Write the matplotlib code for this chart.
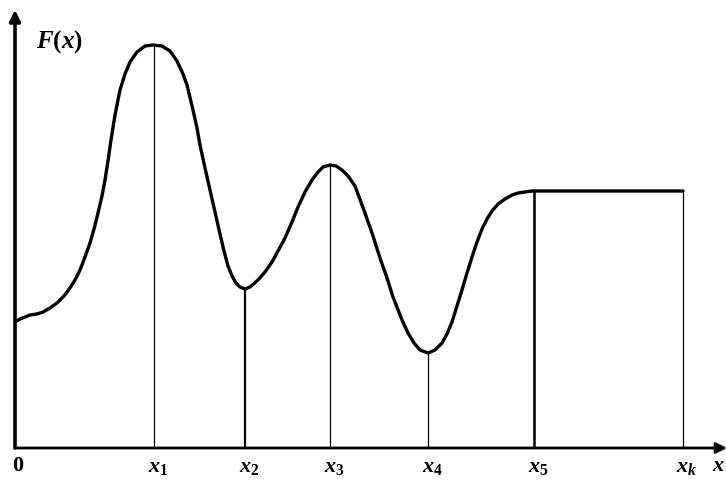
import matplotlib
matplotlib.use("Agg")
import matplotlib.pyplot as plt

plt.rcParams['mathtext.fontset'] = 'custom'
plt.rcParams['mathtext.rm'] = 'Liberation Serif:bold'
plt.rcParams['mathtext.it'] = 'Liberation Serif:bold:italic'
plt.rcParams['mathtext.bf'] = 'Liberation Serif:bold'

# Curve F(x) (x from origin, y above the x axis)
curve_x = [0, 5, 10, 15, 22, 28, 35, 42, 49, 55, 60, 65, 70, 75, 79, 83, 87, 90, 93,
           96, 100, 105, 110, 115, 122, 130, 138, 147, 155, 162, 168, 172, 178, 182,
           185, 190, 195, 200, 205, 209, 213, 217, 221, 225, 230, 235, 243, 250, 257,
           263, 270, 277, 283, 290, 297, 303, 308, 315, 321, 327, 333, 340, 350, 358,
           365, 372, 378, 387, 393, 399, 405, 413, 420, 427, 432, 437, 442, 447, 452,
           457, 462, 467, 472, 477, 483, 490, 497, 503, 510, 517, 668]
curve_y = [126, 129, 131, 133, 134, 136, 140, 145, 152, 160, 168, 178, 191, 205, 219,
           235, 252, 268, 287, 308, 333, 358, 374, 386, 396, 402, 403, 402, 397, 387,
           374, 363, 338, 320, 303, 280, 258, 236, 214, 197, 182, 172, 165, 161, 159,
           161, 168, 176, 186, 197, 210, 226, 241, 256, 268, 276, 281, 283, 282, 278,
           272, 262, 235, 212, 190, 170, 151, 128, 115, 105, 98, 95, 98, 105, 114, 126,
           142, 158, 175, 191, 206, 219, 229, 237, 244, 249, 253, 255, 256, 257, 257]

# Marked points on the x axis and their labels
mark_x = [139, 230, 315, 413, 519, 668]
mark_lw = [0.9, 1.6, 0.9, 0.9, 1.8, 0.9]
mark_labels = [r'$x_1$', r'$x_2$', r'$x_3$', r'$x_4$', r'$x_5$', r'$x_k$']

W, H = 726, 490
fig = plt.figure(figsize=(W / 100, H / 100), dpi=100)
x0, y0 = 15, 448
ax = fig.add_axes([x0 / W, (H - y0) / H, (W - x0) / W, y0 / H])
ax.set_xlim(0, W - x0)
ax.set_ylim(0, y0)
ax.axis('off')


def val_at(x):
    for i in range(len(curve_x) - 1):
        if curve_x[i] <= x <= curve_x[i + 1]:
            t = (x - curve_x[i]) / (curve_x[i + 1] - curve_x[i])
            return curve_y[i] + t * (curve_y[i + 1] - curve_y[i])
    return curve_y[-1]


for mx, lw in zip(mark_x, mark_lw):
    ax.vlines(mx, 0, val_at(mx), color='black', lw=lw, zorder=2)

ax.plot(curve_x, curve_y, color='black', lw=2.4, solid_joinstyle='round',
        solid_capstyle='round', zorder=3)

# axes with arrows
ax.annotate('', xy=(W - x0 + 1, 0), xytext=(0, 0), xycoords='data',
            arrowprops=dict(arrowstyle='-|>', lw=2.0, color='black',
                            mutation_scale=16, shrinkA=0, shrinkB=0),
            annotation_clip=False, zorder=4)
ax.annotate('', xy=(0, y0 - 10), xytext=(0, 0), xycoords='data',
            arrowprops=dict(arrowstyle='-|>', lw=2.6, color='black',
                            mutation_scale=16, shrinkA=0, shrinkB=0),
            annotation_clip=False, zorder=4)

ax.text(21, y0 - 42, r'$F(x)$', fontsize=18, ha='left', va='center')
ax.text(3, -18, '0', fontsize=16, ha='center', va='center',
        family='Liberation Serif', fontweight='bold')
for mx, lab in zip(mark_x, mark_labels):
    ax.text(mx + 4, -19, lab, fontsize=16, ha='center', va='center')
ax.text(W - x0 - 1, -17, r'$x$', fontsize=16, ha='right', va='center', clip_on=False)

fig.savefig('out.png', dpi=100, facecolor='white')
